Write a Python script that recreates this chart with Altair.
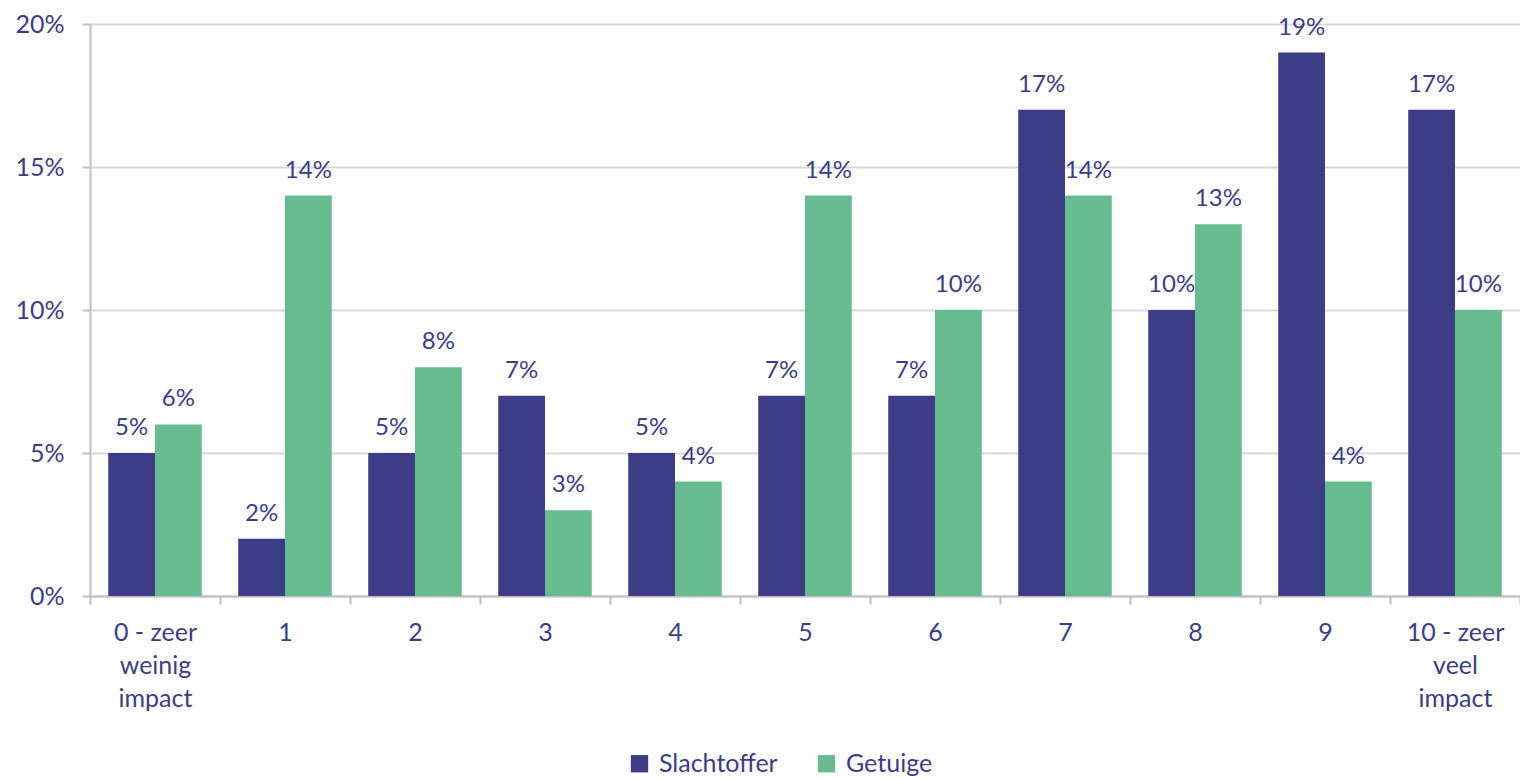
import altair as alt
import pandas as pd

categories = ["0 - zeer\nweinig\nimpact", "1", "2", "3", "4", "5", "6", "7", "8", "9", "10 - zeer\nveel\nimpact"]
slachtoffer = [5, 2, 5, 7, 5, 7, 7, 17, 10, 19, 17]
getuige = [6, 14, 8, 3, 4, 14, 10, 14, 13, 4, 10]
series = ["Slachtoffer", "Getuige"]
colors = ["#3C3D86", "#66BB8F"]
y_ticks = [0, 5, 10, 15, 20]

rows = []
for i, c in enumerate(categories):
    rows.append({"cat": c, "serie": series[0], "value": slachtoffer[i]})
    rows.append({"cat": c, "serie": series[1], "value": getuige[i]})
df = pd.DataFrame(rows)
df["label"] = df["value"].astype(str) + "%"

FONT = "Lato"
TXT = "#3C3D86"

x = alt.X("cat:N", sort=categories, title=None,
          scale=alt.Scale(paddingInner=0, paddingOuter=0),
          axis=alt.Axis(labelExpr="split(datum.label, '\\n')", labelAngle=0,
                        labelFontSize=25, labelColor=TXT, labelFont=FONT,
                        labelLineHeight=33, labelPadding=16, labelBaseline="top",
                        tickBand="extent", tickSize=8, tickColor="#BFBFBF", tickWidth=2,
                        domainColor="#BFBFBF", domainWidth=2, grid=False))
xoff = alt.XOffset("serie:N", sort=series,
                   scale=alt.Scale(paddingInner=0, paddingOuter=0.39))
y = alt.Y("value:Q", title=None,
          scale=alt.Scale(domain=[0, 20], nice=False),
          axis=alt.Axis(values=y_ticks, labelExpr="datum.value + '%'",
                        labelFontSize=25, labelColor=TXT, labelFont=FONT,
                        labelPadding=18, tickSize=8, tickColor="#BFBFBF", tickWidth=2,
                        domainColor="#BFBFBF", domainWidth=2,
                        gridColor="#D9D9D9", gridWidth=2))
color = alt.Color("serie:N", sort=series, title=None,
                  scale=alt.Scale(domain=series, range=colors),
                  legend=alt.Legend(orient="none", direction="horizontal",
                                    legendX=537, legendY=727,
                                    symbolType="square", symbolSize=300,
                                    symbolStrokeWidth=0, labelFontSize=25,
                                    labelColor=TXT, labelFont=FONT,
                                    columnPadding=36, labelOffset=7))

bars = alt.Chart(df).mark_bar().encode(x=x, xOffset=xoff, y=y, color=color)
labels = alt.Chart(df).mark_text(baseline="bottom", dy=-13, fontSize=24,
                                 font=FONT, color=TXT).encode(
    x=alt.X("cat:N", sort=categories), xOffset=alt.XOffset("serie:N", sort=series),
    y="value:Q", text="label:N")

chart = alt.layer(bars, labels).properties(
    width=1430, height=572,
    autosize=alt.AutoSizeParams(type="none"),
    padding={"left": 82, "top": 16, "right": 0, "bottom": 182},
).configure_view(stroke=None).configure_axis(labelFont=FONT)

chart.save("out.html", embed_options={"renderer": "svg", "actions": False})
